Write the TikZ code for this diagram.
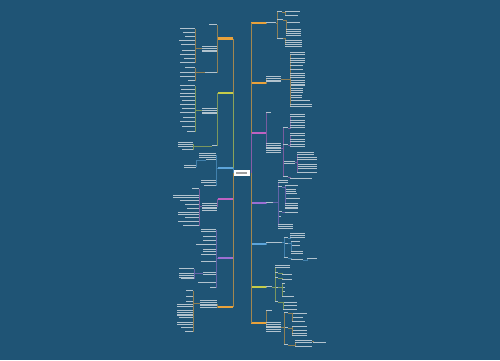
\documentclass[tikz,border=0pt]{standalone}
\usetikzlibrary{calc}

\definecolor{bgblue}{HTML}{1F5475}
\definecolor{txt}{HTML}{B2C3CE}
\definecolor{corange}{HTML}{E9A23B}
\definecolor{cyellow}{HTML}{C5CC4A}
\definecolor{cblue}{HTML}{5DA5DA}
\definecolor{cmagenta}{HTML}{C062C2}
\definecolor{cviolet}{HTML}{9B6FD3}

\tikzset{
  leaf/.style={inner sep=0pt, minimum height=1.6pt,
    path picture={\foreach \k in {0,2.2,...,11}
      \fill[txt] ($(path picture bounding box.north west)+(0pt,-\k pt)$)
        rectangle ($(path picture bounding box.north east)+(0pt,-\k pt-1.2pt)$);}},
  branch/.style={inner sep=0pt, minimum width=15pt, minimum height=2.6pt},
  hubbox/.style={fill=white, inner sep=0pt, minimum width=17pt, minimum height=6pt},
  lnO/.style={draw=corange!55!bgblue, line width=0.5pt},
  lnY/.style={draw=cyellow!55!bgblue, line width=0.5pt},
  lnB/.style={draw=cblue!55!bgblue, line width=0.5pt},
  lnM/.style={draw=cmagenta!55!bgblue, line width=0.5pt},
  lnV/.style={draw=cviolet!55!bgblue, line width=0.5pt},
  tkO/.style={draw=corange!65!bgblue, line width=0.9pt},
  tkY/.style={draw=cyellow!65!bgblue, line width=0.9pt},
  tkB/.style={draw=cblue!65!bgblue, line width=0.9pt},
  tkM/.style={draw=cmagenta!65!bgblue, line width=0.9pt},
  tkV/.style={draw=cviolet!65!bgblue, line width=0.9pt}
}

% children hanging left / right of a parent
\newcommand{\kidsL}[4]{%
  \foreach \n/\y/\w/\h in {#4}{%
    \draw[#3] (#1.west) -| (#2,\y);
    \node[leaf, anchor=east, minimum width=\w pt, minimum height=\h pt] (\n) at (#2,\y) {};
  }}
\newcommand{\kidsR}[4]{%
  \foreach \n/\y/\w/\h in {#4}{%
    \draw[#3] (#1.east) -| (#2,\y);
    \node[leaf, anchor=west, minimum width=\w pt, minimum height=\h pt] (\n) at (#2,\y) {};
  }}

\begin{document}
\begin{tikzpicture}[x=1pt, y=-1pt]
    % Canvas
    \fill[bgblue] (0,0) rectangle (500,360);

    % Hub
    \node[hubbox] (hub) at (241.5,173) {};
    \node[fill=gray!75, inner sep=0pt, minimum width=11pt, minimum height=1.4pt] (hubtxt) at (hub) {};

    % Main branches
    \foreach \n/\y/\c in {L1/38.5/corange, L2/93/cyellow, L3/168/cblue,
                          L4/199/cmagenta, L5/258/cviolet, L6/307/corange}
      \node[branch, fill=\c, anchor=east] (\n) at (233,\y) {};
    \foreach \n/\y/\c in {R1/23/corange, R2/83/corange, R3/133/cmagenta, R4/203/cviolet,
                          R5/244/cblue, R6/287/cyellow, R7/323/corange}
      \node[branch, fill=\c, anchor=west] (\n) at (251,\y) {};

    % Trunks
    \foreach \n/\s in {L1/tkO, L2/tkY, L3/tkB, L4/tkM, L5/tkV, L6/tkO}
      \draw[\s] (\n.east) -- (\n.east |- hub.west);
    \foreach \n/\s in {R1/tkO, R2/tkO, R3/tkM, R4/tkV, R5/tkB, R6/tkY, R7/tkO}
      \draw[\s] (\n.west) -- (\n.west |- hub.east);

    % Left side
    \kidsL{L1}{217}{lnO}{L1a/25/8/1.6, L1b/48.5/15/5, L1c/72.5/12/1.6}
    \kidsL{L1b}{195}{lnO}{L1b1/29/15/1.6, L1b2/33/12/1.6, L1b3/37/10/1.6, L1b4/41/16/1.6,
      L1b5/45/14/1.6, L1b6/51/13/1.6, L1b7/55/15/1.6, L1b8/59/11/1.6, L1b9/63/15/1.6}
    \kidsL{L1c}{195}{lnO}{L1c1/68/10/1.6, L1c2/72.5/15/1.6, L1c3/76.5/15/1.6, L1c4/81/7/1.6}

    \kidsL{L2}{217}{lnY}{L2a/110.5/15/5, L2b/146/5/1.6}
    \kidsL{L2a}{195}{lnY}{L2a1/86/15/1.6, L2a2/90/14/1.6, L2a3/93.5/15/1.6, L2a4/97/15/1.6,
      L2a5/101/13/1.6, L2a6/105/15/1.6, L2a7/108.5/13/1.6, L2a8/113/15/1.6, L2a9/118/12/1.6,
      L2a10/122/15/1.6, L2a11/127/13/1.6, L2a12/132/8/1.6}
    \kidsL{L2b}{193}{lnY}{L2b1/144/15/4, L2b2/149.5/11/1.6}

    \kidsL{L3}{216}{lnB}{L3a/155/17/4, L3b/160/10/1.6, L3c/181/15/3, L3d/186/12/1.6}
    \kidsL{L3b}{196}{lnB}{L3b1/166.5/12/3}

    \kidsL{L4}{217}{lnM}{L4a/206.5/15/7}
    \kidsL{L4a}{199}{lnM}{L4a1/189/7/1.6, L4a2/196/26/2.5, L4a3/201/19/1.6, L4a4/204.5/14/1.6,
      L4a5/208.5/12/1.6, L4a6/213.5/21/3, L4a7/218/14/1.6, L4a8/222/21/1.6, L4a9/225.5/16/1.6}

    \kidsL{L5}{216}{lnV}{L5a/230/15/3, L5b/236.5/13/1.6, L5c/241/13/1.6, L5d/244.5/20/1.6,
      L5e/250/13/3, L5f/254.5/15/1.6, L5g/261.5/15/1.6, L5h/273.5/13/3, L5i/283/18/1.6,
      L5j/287.5/6/1.6}
    \kidsL{L5h}{194}{lnV}{L5h1/268.5/15/1.6, L5h2/275/15/4, L5h3/279/13/1.6}

    \kidsL{L6}{217}{lnO}{L6a/303.5/17/7}
    \kidsL{L6a}{193}{lnO}{L6a1/291/7/1.6, L6a2/297/7/1.6, L6a3/302/7/1.6, L6a4/305.5/16/4,
      L6a5/312.5/16/5, L6a6/318/14/1.6, L6a7/323.5/16/3, L6a8/328/12/1.6, L6a9/332/8/1.6}

    % Right side
    \kidsR{R1}{266}{lnO}{R1a/23/10/1.6}
    \kidsR{R1a}{277}{lnO}{R1s1/12/5/1.6, R1s2/20/6/1.6, R1s3/38.5/6/1.6}
    \kidsR{R1s1}{285}{lnO}{R1s11/12/15/1.6, R1s12/16/13/1.6}
    \kidsR{R1s2}{286}{lnO}{R1s21/22.5/14/1.6, R1s22/32.5/15/8}
    \kidsR{R1s3}{285}{lnO}{R1s31/43.5/17/8}

    \kidsR{R2}{266}{lnO}{R2a/79/15/6}
    \kidsR{R2a}{290}{lnO}{R2a1/53.5/15/3, R2a2/60/15/5, R2a3/66/13/1.6, R2a4/70/13/1.6,
      R2a5/75/15/4, R2a6/82.5/15/5, R2a7/90/13/4, R2a8/96.5/12/3, R2a9/101/20/1.6,
      R2a10/105.5/22/3}

    \kidsR{R3}{266}{lnM}{R3a/113/5/1.6, R3b/148/15/10}
    \kidsR{R3b}{283}{lnM}{R3s1/128/5/1.6, R3s2/145/5/1.6, R3s3/162/12/3, R3s4/177/5/1.6}
    \kidsR{R3s1}{290}{lnM}{R3s11/115.5/15/4, R3s12/121.5/15/3, R3s13/126.5/15/3}
    \kidsR{R3s2}{290}{lnM}{R3s21/134.5/15/4, R3s22/140/15/3, R3s23/145/15/3}
    \kidsR{R3s3}{297}{lnM}{R3s31/153.5/17/3, R3s32/158.5/20/3, R3s33/166.5/20/6, R3s34/173/20/1.6}
    \kidsR{R3s4}{290}{lnM}{R3s41/178.5/22/1.6}

    \kidsR{R4}{266}{lnV}{R4a/202.5/7/1.6}
    \kidsR{R4a}{278}{lnV}{R4s1/181.5/10/3, R4s2/187/4/1.6, R4s3/212/4/1.6, R4s4/217/3/1.6,
      R4s5/226.5/15/6}
    \kidsR{R4s2}{285}{lnV}{R4s21/186/13/1.6, R4s22/190.5/11/3, R4s23/194/12/1.6,
      R4s24/198.5/15/1.6, R4s25/205.5/13/5}
    \kidsR{R4s3}{285}{lnV}{R4s31/212.5/13/1.6}

    \kidsR{R5}{266}{lnB}{R5a/242.5/16/1.6}
    \kidsR{R5a}{284}{lnB}{R5s1/238/4/1.6, R5s2/243.5/4/1.6, R5s3/258/4/1.6}
    \kidsR{R5s1}{290}{lnB}{R5s11/235/15/4}
    \kidsR{R5s2}{291}{lnB}{R5s21/242/9/1.6, R5s22/245.5/9/1.6, R5s23/252/12/2.5}
    \kidsR{R5s3}{291}{lnB}{R5s31/260/12/1.6}
    \kidsR{R5s31}{307}{lnB}{R5s311/259/10/1.6}

    \kidsR{R6}{266}{lnY}{R6a/287/6/1.6}
    \kidsR{R6a}{275}{lnY}{R6s1/266.5/15/4, R6s2/273/3/1.6, R6s3/278/3/1.6, R6s4/287.5/3/1.6,
      R6s5/302/3/1.6}
    \kidsR{R6s2}{282}{lnY}{R6s21/275/10/1.6}
    \kidsR{R6s3}{282}{lnY}{R6s31/280/10/1.6}
    \kidsR{R6s4}{282}{lnY}{R6s41/284/3/1.6, R6s42/288/3/1.6, R6s43/292/3/1.6, R6s44/297/12/1.6}
    \kidsR{R6s5}{283}{lnY}{R6s51/302.5/14/1.6, R6s52/306/14/1.6, R6s53/310/14/1.6}

    \kidsR{R7}{266}{lnO}{R7a/311/6/1.6, R7b/327/15/10}
    \kidsR{R7b}{284}{lnO}{R7s1/313/4/1.6, R7s2/328/4/1.6, R7s3/345/4/1.6}
    \kidsR{R7s1}{292}{lnO}{R7s11/314/15/1.6, R7s12/318/11/1.6, R7s13/322/13/1.6}
    \kidsR{R7s2}{292}{lnO}{R7s21/327/15/1.6, R7s22/330.5/15/1.6, R7s23/334.5/15/3}
    \kidsR{R7s3}{295}{lnO}{R7s31/341.5/17/3, R7s32/347/17/1.6}
    \kidsR{R7s31}{313}{lnO}{R7s311/342.5/13/1.6}

\end{tikzpicture}
\end{document}
